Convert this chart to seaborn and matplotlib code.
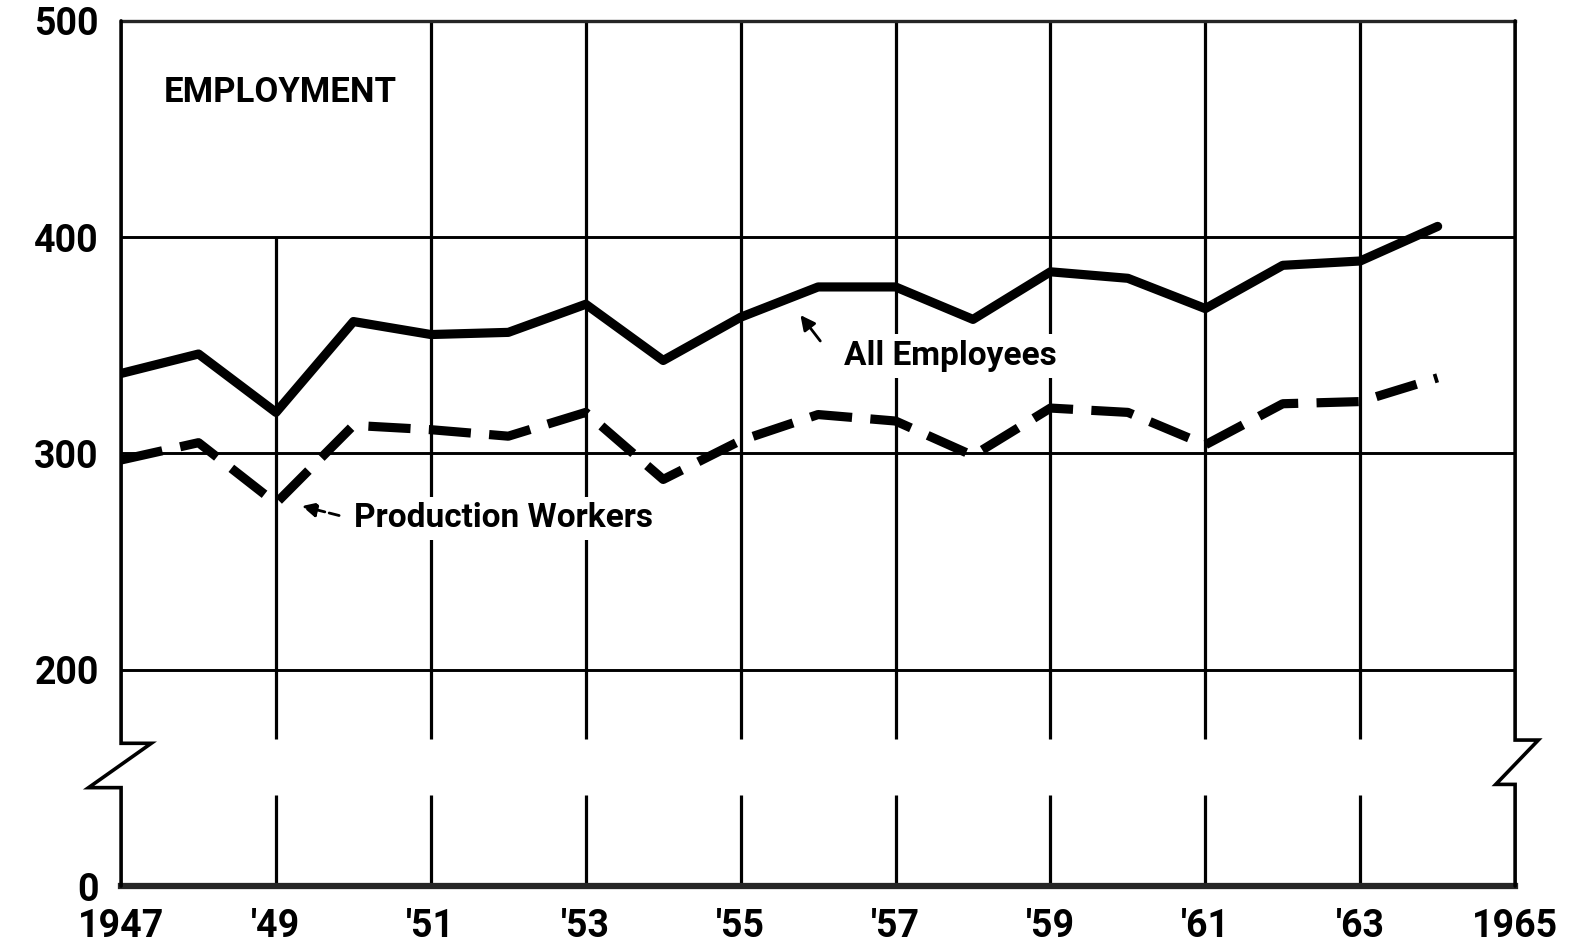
import pandas as pd
import matplotlib
matplotlib.use("Agg")
import matplotlib.pyplot as plt
import seaborn as sns

sns.set_style("white")
plt.rcParams['font.family'] = ['Roboto', 'DejaVu Sans']
plt.rcParams['text.color'] = 'black'
plt.rcParams['xtick.color'] = 'black'
plt.rcParams['ytick.color'] = 'black'

# data (thousands of employees, 1947-1964)
years = list(range(1947, 1965))
all_employees = [337, 346, 319, 361, 355, 356, 369, 343, 363, 377, 377, 362, 384, 381, 367, 387, 389, 405]
production_workers = [297, 305, 277, 313, 311, 308, 319, 288, 306, 318, 315, 299, 321, 319, 304, 323, 324, 335]

# axis: the "0" sits where 100 would be (broken scale)
y_ticks = [100, 200, 300, 400, 500]
y_tick_labels = ["0", "200", "300", "400", "500"]
x_major = list(range(1947, 1966, 2))
x_major_labels = ["1947", "'49", "'51", "'53", "'55", "'57", "'59", "'61", "'63", "1965"]
x_minor = list(range(1948, 1965, 2))
grid_years = x_major[1:-1]

df = pd.DataFrame({
    "year": years * 2,
    "value": all_employees + production_workers,
    "series": ["All Employees"] * len(years) + ["Production Workers"] * len(years),
})

fig = plt.figure(figsize=(15.87, 9.51), dpi=100)
ax = fig.add_axes([0.0763, 0.0683, 0.8784, 0.9097])
ax.set_xlim(1947, 1965)
ax.set_ylim(100, 500)

# grid
for yv in [200, 300, 400]:
    ax.axhline(yv, color="black", lw=2.1, zorder=1)
brk_lo, brk_hi = 142, 168
for yr in grid_years:
    top = 400 if yr == 1949 else 500
    ax.vlines(yr, brk_hi, top, color="black", lw=2.3, zorder=1)
    ax.vlines(yr, 100, brk_lo, color="black", lw=2.3, zorder=1)

sns.lineplot(data=df, x="year", y="value", style="series", hue="series",
             palette={"All Employees": "black", "Production Workers": "black"},
             dashes={"All Employees": "", "Production Workers": (4.6, 2.0)},
             linewidth=6.6, legend=False, ax=ax, zorder=3)
for ln in ax.get_lines():
    ln.set_solid_capstyle("round")
    ln.set_dash_capstyle("butt")

# spines: left / right drawn by hand with break marks
for s in ["left", "right"]:
    ax.spines[s].set_visible(False)
ax.spines["top"].set_linewidth(2.4)
ax.spines["bottom"].set_linewidth(4.5)
ax.plot([1947, 1947, 1947.39, 1946.58, 1947, 1947], [500, 166, 166, 145.5, 145.5, 100],
        color="black", lw=2.6, clip_on=False, solid_joinstyle="miter", zorder=4)
ax.plot([1965, 1965, 1965.3, 1964.75, 1965, 1965], [500, 167.5, 167.5, 147, 147, 100],
        color="black", lw=2.6, clip_on=False, solid_joinstyle="miter", zorder=4)

ax.set_xticks(x_major, x_major_labels)
ax.set_xticks(x_minor, minor=True)
ax.tick_params(axis="x", which="major", length=0, pad=16, labelsize=27)
ax.tick_params(axis="x", which="minor", direction="in", length=17, width=3)
ax.set_yticks(y_ticks, y_tick_labels)
ax.tick_params(axis="y", length=0, pad=16, labelsize=27)
for lab in ax.get_xticklabels() + ax.get_yticklabels():
    lab.set_fontweight("bold")
ax.set_xlabel("")
ax.set_ylabel("")

# labels (white box cuts the grid lines behind the text, as in the original)
box = dict(facecolor="white", edgecolor="none", pad=4)
ax.text(1947.55, 467, "EMPLOYMENT", fontsize=25, fontweight="bold",
        ha="left", va="center")
ax.text(1956.34, 345, "All Employees", fontsize=24, fontweight="bold",
        ha="left", va="center", bbox=box, zorder=2)
ax.annotate("", xy=(1955.75, 365), xytext=(1956.05, 351),
            arrowprops=dict(arrowstyle="-|>", color="black", lw=2, mutation_scale=22))
ax.text(1950.01, 270, "Production Workers", fontsize=24, fontweight="bold",
        ha="left", va="center", bbox=box, zorder=2)
ax.annotate("", xy=(1949.3, 276), xytext=(1949.85, 271),
            arrowprops=dict(arrowstyle="-|>", color="black", lw=2, ls="--", mutation_scale=22))

fig.savefig("out.png", dpi=100)
